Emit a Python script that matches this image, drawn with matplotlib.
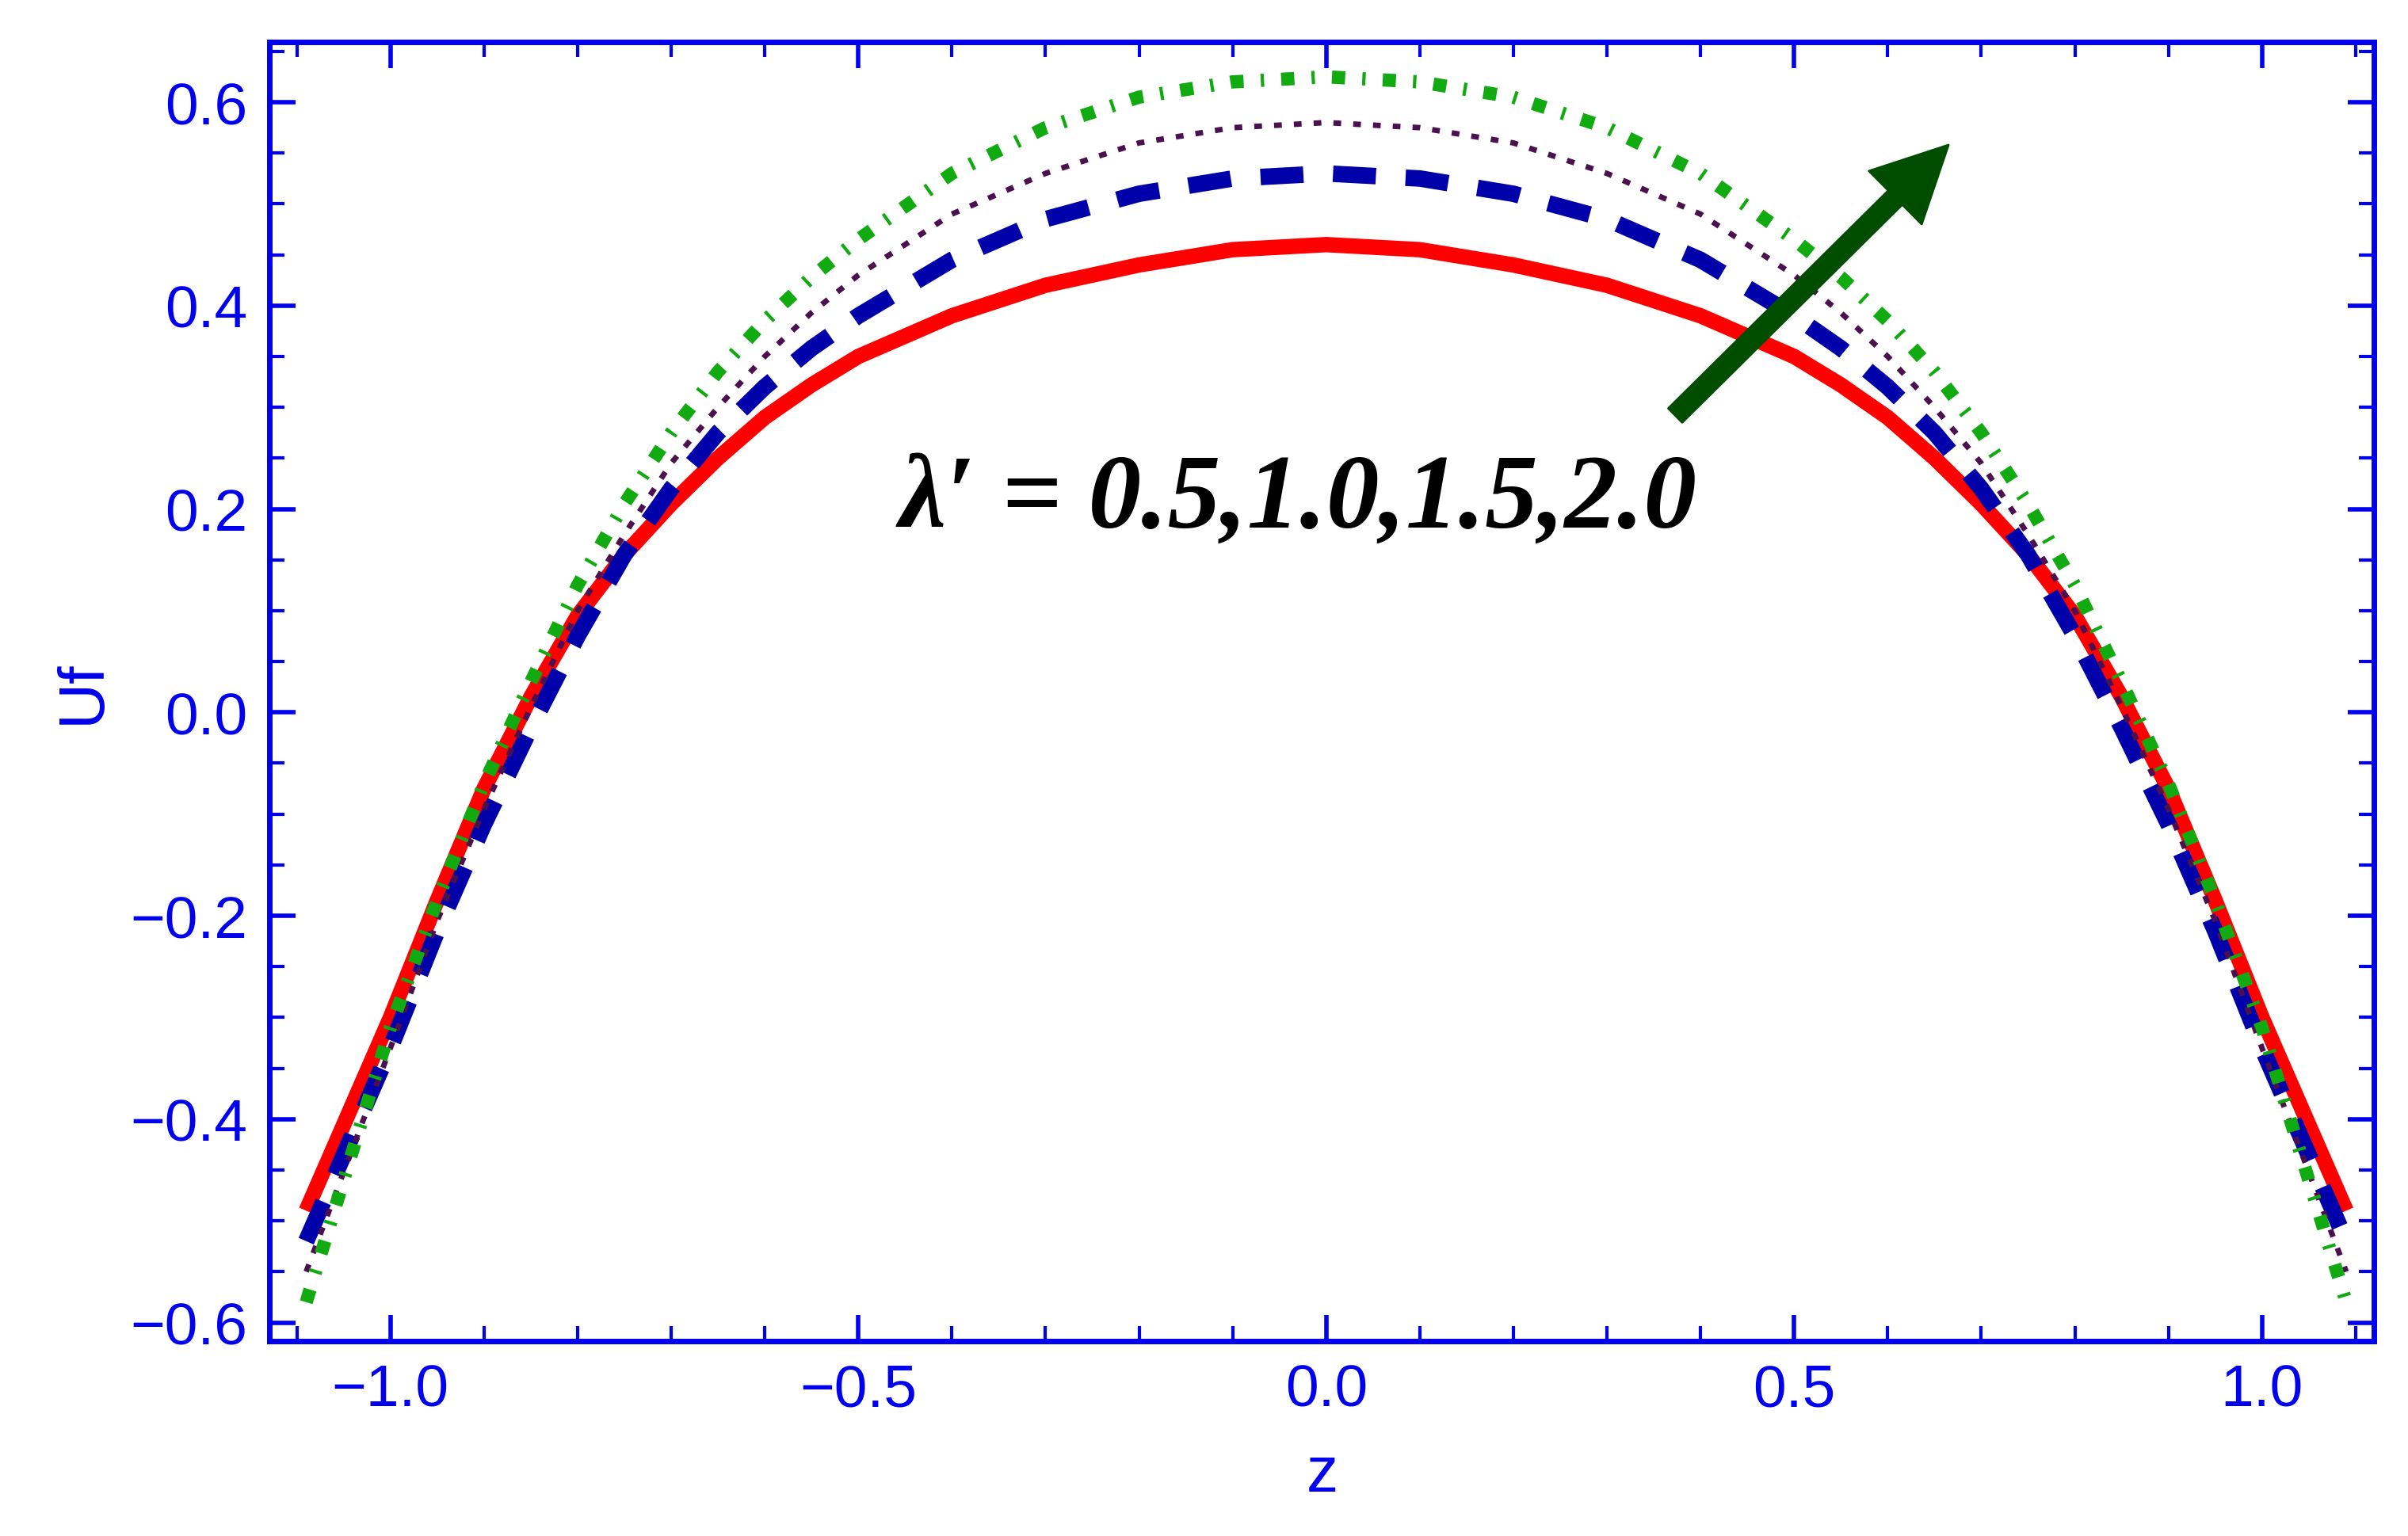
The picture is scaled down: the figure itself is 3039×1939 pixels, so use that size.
import numpy as np
import matplotlib.pyplot as plt
from matplotlib.ticker import MultipleLocator

# values (right half, mirrored for the left)
z_half = [0.0, 0.1, 0.2, 0.3, 0.4, 0.5, 0.55, 0.6, 0.65, 0.7, 0.75, 0.8, 0.85, 0.9, 0.95, 1.0, 1.045, 1.09]
red_half = [0.46, 0.455, 0.44, 0.42, 0.39, 0.35, 0.322, 0.29, 0.25, 0.205, 0.155, 0.095, 0.015, -0.075, -0.185, -0.30, -0.395, -0.49]
blue_half = [0.53, 0.525, 0.51, 0.485, 0.445, 0.39, 0.358, 0.32, 0.275, 0.22, 0.155, 0.075, -0.015, -0.11, -0.215, -0.33, -0.425, -0.52]
purple_half = [0.58, 0.575, 0.56, 0.53, 0.49, 0.43, 0.393, 0.35, 0.30, 0.245, 0.175, 0.10, 0.005, -0.095, -0.205, -0.33, -0.44, -0.55]
green_half = [0.625, 0.62, 0.605, 0.575, 0.53, 0.465, 0.428, 0.385, 0.335, 0.275, 0.205, 0.125, 0.03, -0.07, -0.185, -0.31, -0.445, -0.58]

def mirror(zh, vh):
    z = [-v for v in zh[::-1]] + zh[1:]
    u = vh[::-1] + vh[1:]
    return z, u

blue_c = '#0000ee'
fig = plt.figure(figsize=(15.195, 9.7), dpi=200)
ax = fig.add_axes([0.112, 0.127, 0.874, 0.845])

z, u = mirror(z_half, red_half)
ax.plot(z, u, color='#ff0000', lw=7, solid_capstyle='butt', solid_joinstyle='round')
z, u = mirror(z_half, blue_half)
ax.plot(z, u, color='#0000aa', lw=7.5, dashes=(2.6, 1.8))
z, u = mirror(z_half, purple_half)
ax.plot(z, u, color='#4b1050', lw=2.5, dashes=(1.4, 2.2))
z, u = mirror(z_half, green_half)
ax.plot(z, u, color='#11aa11', lw=6, dashes=(1.0, 1.3, 0.25, 1.3))

ax.annotate('', xy=(0.665, 0.558), xytext=(0.373, 0.292),
            arrowprops=dict(facecolor='#004d00', edgecolor='#004d00',
                            width=9, headwidth=34, headlength=34))
ax.text(-0.03, 0.208, "λ′ = 0.5,1.0,1.5,2.0", ha='center', va='center',
        fontsize=48, fontweight='bold', fontstyle='italic', family='Liberation Serif')

ax.set_xlim(-1.129, 1.12)
ax.set_ylim(-0.618, 0.659)
ax.xaxis.set_major_locator(MultipleLocator(0.5))
ax.xaxis.set_minor_locator(MultipleLocator(0.1))
ax.yaxis.set_major_locator(MultipleLocator(0.2))
ax.yaxis.set_minor_locator(MultipleLocator(0.05))
ax.xaxis.set_major_formatter(plt.FuncFormatter(lambda v, p: f"{v:.1f}".replace('-', '\u2212')))
ax.yaxis.set_major_formatter(plt.FuncFormatter(lambda v, p: f"{v:.1f}".replace('-', '\u2212')))
ax.tick_params(which='both', direction='in', top=True, right=True, colors=blue_c,
               labelsize=27, labelcolor=blue_c, pad=10)
ax.tick_params(which='major', length=12, width=2)
ax.tick_params(which='minor', length=7, width=1.5)
for lab in ax.get_xticklabels() + ax.get_yticklabels():
    lab.set_family('Liberation Sans')
for s in ax.spines.values():
    s.set_color(blue_c)
    s.set_linewidth(2.5)
ax.set_xlabel('z', color=blue_c, fontsize=29, family='Liberation Sans', labelpad=12)
ax.set_ylabel('Uf', color=blue_c, fontsize=29, family='Liberation Sans', labelpad=8)

fig.savefig('out.png', dpi=200)
